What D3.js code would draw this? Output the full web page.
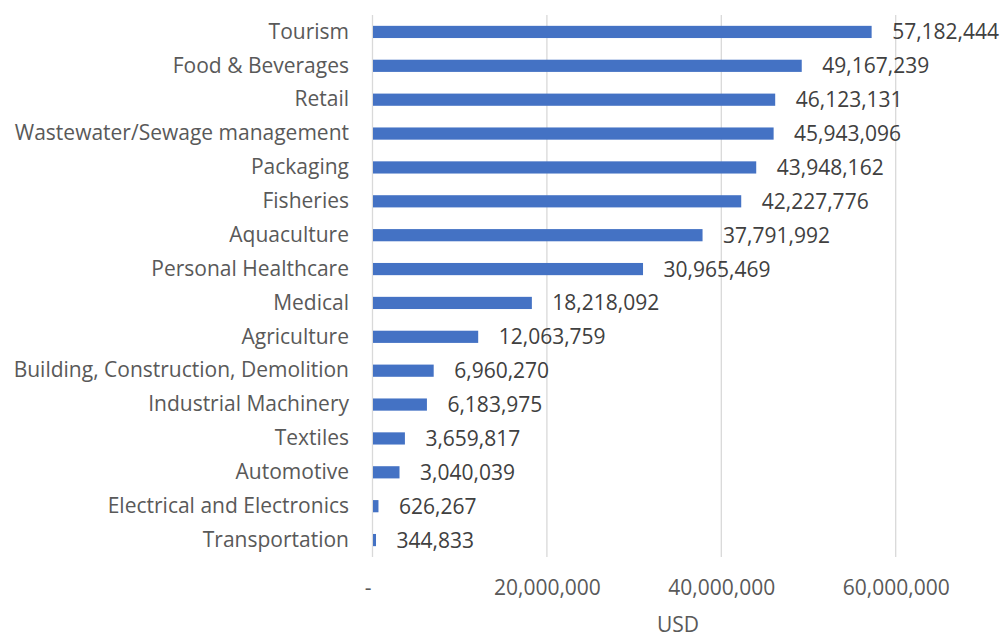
<!DOCTYPE html>
<html>
<head>
<meta charset="utf-8">
<script src="https://cdn.jsdelivr.net/npm/d3@7"></script>
<style>
  html, body { margin: 0; padding: 0; background: #fff; }
  svg { display: block; }
  text { font-family: "Open Sans", Lato, sans-serif; }
</style>
</head>
<body>
<svg id="chart" width="1003" height="637"></svg>
<script>
// Sectors, top to bottom
const categories = [
  "Tourism",
  "Food & Beverages",
  "Retail",
  "Wastewater/Sewage management",
  "Packaging",
  "Fisheries",
  "Aquaculture",
  "Personal Healthcare",
  "Medical",
  "Agriculture",
  "Building, Construction, Demolition",
  "Industrial Machinery",
  "Textiles",
  "Automotive",
  "Electrical and Electronics",
  "Transportation"
];
// Values in USD
const values = [
  57182444, 49167239, 46123131, 45943096, 43948162, 42227776, 37791992,
  30965469, 18218092, 12063759, 6960270, 6183975, 3659817, 3040039,
  626267, 344833
];
const tickValues = [0, 20000000, 40000000, 60000000];
const tickLabels = ["-", "20,000,000", "40,000,000", "60,000,000"];
const axisTitle = "USD";

const data = categories.map((c, i) => ({ name: c, value: values[i] }));

const FONT = "'Open Sans', Lato, sans-serif";
const FS = 21;

const svg = d3.select("#chart");
const plotLeft = 372.5, plotTop = 15, plotBottom = 557;
const pxPer20M = 174.4;

const x = d3.scaleLinear()
  .domain([0, 20000000])
  .range([plotLeft, plotLeft + pxPer20M]);

const y = d3.scaleBand()
  .domain(categories)
  .range([plotTop, plotBottom])
  .paddingInner(0.64)
  .paddingOuter(0.32);

// Vertical gridlines
svg.append("g")
  .selectAll("line")
  .data(tickValues)
  .join("line")
  .attr("x1", d => x(d)).attr("x2", d => x(d))
  .attr("y1", plotTop).attr("y2", plotBottom)
  .attr("stroke", "#d9d9d9")
  .attr("stroke-width", 1.3);

// Bars
svg.append("g")
  .selectAll("rect")
  .data(data)
  .join("rect")
  .attr("x", x(0) + 0.5)
  .attr("y", d => y(d.name))
  .attr("width", d => Math.max(0, x(d.value) - x(0)))
  .attr("height", y.bandwidth())
  .attr("fill", "#4472c4");

// Value labels
const fmt = d3.format(",");
svg.append("g")
  .selectAll("text")
  .data(data)
  .join("text")
  .attr("x", d => x(d.value) + 21)
  .attr("y", d => y(d.name) + y.bandwidth() / 2)
  .attr("dy", "0.36em")
  .attr("font-size", FS)
  .attr("fill", "#404040")
  .text(d => fmt(d.value));

// Category axis labels
const yAxis = d3.axisLeft(y).tickSize(0).tickPadding(0);
const gy = svg.append("g")
  .attr("transform", `translate(${349},0)`)
  .call(yAxis);
gy.select(".domain").remove();
gy.selectAll("text")
  .attr("font-size", FS)
  .attr("font-family", FONT)
  .attr("fill", "#595959");

// Value axis labels
const xAxis = d3.axisBottom(x)
  .tickValues(tickValues)
  .tickFormat((d, i) => tickLabels[i])
  .tickSize(0)
  .tickPadding(0);
const gx = svg.append("g")
  .attr("transform", `translate(0,${595})`)
  .call(xAxis);
gx.select(".domain").remove();
gx.selectAll("text")
  .attr("dy", 0)
  .attr("font-size", FS)
  .attr("font-family", FONT)
  .attr("fill", "#595959");
gx.selectAll(".tick").filter(d => d === 0).select("text")
  .attr("dx", -5);

// Axis title
svg.append("text")
  .attr("x", 678)
  .attr("y", 632)
  .attr("text-anchor", "middle")
  .attr("font-size", FS)
  .attr("fill", "#595959")
  .text(axisTitle);
</script>
</body>
</html>
